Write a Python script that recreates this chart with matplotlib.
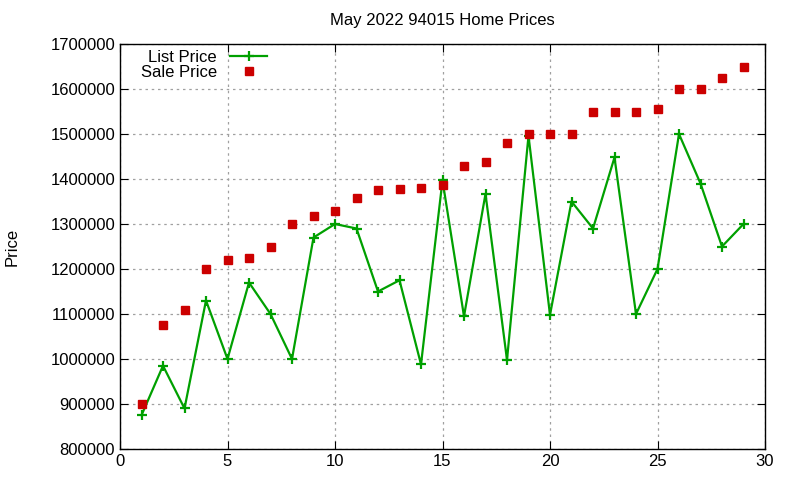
import matplotlib.pyplot as plt
import matplotlib.ticker as ticker

plt.rcParams['font.family'] = ['Liberation Sans', 'DejaVu Sans']

# data
days = list(range(1, 30))
list_price = [875000, 985000, 890000, 1130000, 1000000, 1170000, 1100000, 1000000,
              1270000, 1300000, 1290000, 1150000, 1175000, 988000, 1397000, 1095000,
              1367000, 998000, 1496000, 1098000, 1350000, 1290000, 1448000, 1100000,
              1200000, 1500000, 1390000, 1250000, 1300000]
sale_price = [900000, 1075000, 1108000, 1200000, 1220000, 1225000, 1250000, 1300000,
              1318000, 1328000, 1357000, 1375000, 1377000, 1381000, 1386000, 1430000,
              1437000, 1479000, 1500000, 1500000, 1500000, 1550000, 1550000, 1550000,
              1555000, 1600000, 1600000, 1625000, 1650000]

fig = plt.figure(figsize=(8, 4.8), dpi=100)
ax = fig.add_axes([0.15, 0.0646, 0.80625, 0.8437])

ax.plot(days, list_price, color='#00a000', lw=1.6, marker='+', ms=7, mew=1.6,
        label='List Price')
ax.plot(days, sale_price, ls='none', color='#cc0000', marker='s', ms=6,
        label='Sale Price')

ax.set_xlim(0, 30)
ax.set_ylim(800000, 1700000)
ax.set_xticks(range(0, 31, 5))
ax.set_yticks(range(800000, 1700001, 100000))
ax.yaxis.set_major_formatter(ticker.FormatStrFormatter('%d'))
ax.tick_params(direction='in', top=True, right=True, length=6, labelsize=12)
ax.grid(True, color='#a0a0a0', ls=(0, (2, 3)), lw=0.9)
for s in ax.spines.values():
    s.set_linewidth(1.0)

ax.set_title('May 2022 94015 Home Prices', fontsize=12, pad=14)
ax.set_ylabel('Price', fontsize=12, labelpad=22)

ax.legend(loc='upper left', bbox_to_anchor=(0.022, 1.002), frameon=False,
          markerfirst=False, fontsize=12, handlelength=2.2,
          borderaxespad=0.0, labelspacing=0.0, borderpad=0.4)

plt.savefig('out.png', dpi=100)
